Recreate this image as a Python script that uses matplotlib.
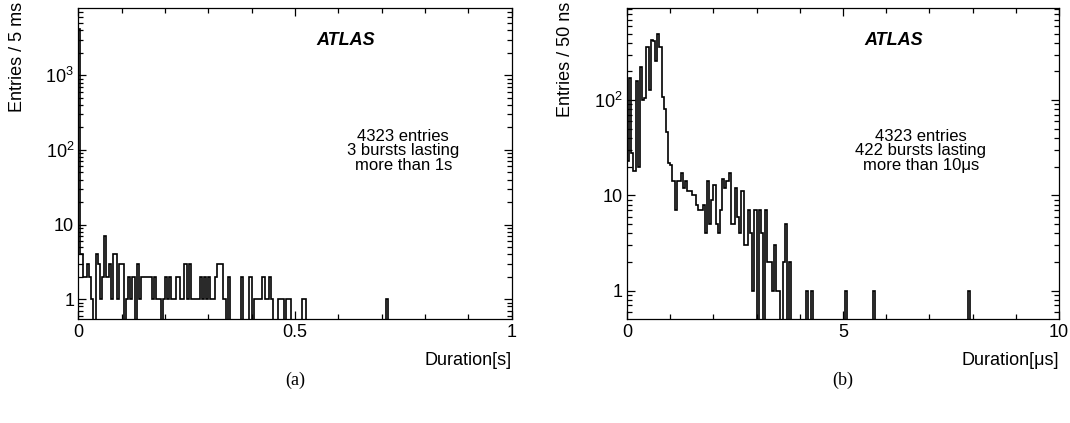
"""Burst duration histograms, two panels in ROOT/ATLAS style."""
import matplotlib

matplotlib.use("Agg")

import matplotlib.pyplot as plt
import numpy as np
from matplotlib.ticker import FixedLocator, FuncFormatter, LogLocator, MultipleLocator, NullFormatter

plt.rcParams["font.family"] = ["Liberation Sans", "DejaVu Sans"]
plt.rcParams["mathtext.fontset"] = "custom"
plt.rcParams["mathtext.rm"] = "Liberation Sans"
plt.rcParams["mathtext.it"] = "Liberation Sans:italic"
plt.rcParams["mathtext.bf"] = "Liberation Sans:bold"

N_BINS = 200

# (a) duration in s, 5 ms bins, bins 0..104 then isolated entries
dur_s_counts = [
    4170, 4, 2, 2, 3, 2, 1, 0, 4, 3, 1, 2, 7, 2, 3, 1, 4, 4, 1, 3,
    3, 0, 1, 2, 1, 2, 0, 3, 1, 2, 2, 2, 2, 2, 1, 2, 1, 1, 0, 1,
    2, 1, 2, 1, 1, 2, 2, 1, 1, 3, 1, 3, 1, 1, 1, 1, 2, 1, 2, 1,
    2, 1, 1, 2, 3, 3, 3, 1, 0, 2, 0, 0, 0, 0, 0, 2, 0, 0, 0, 2,
    0, 1, 1, 1, 1, 2, 1, 1, 2, 1, 0, 0, 1, 1, 1, 0, 1, 1, 0, 0,
    0, 0, 0, 1, 1,
]
dur_s_far = {142: 1}

# (b) duration in us, 50 ns bins, bins 0..75 then isolated entries
dur_us_counts = [
    23, 170, 28, 18, 160, 20, 220, 100, 105, 360, 127, 430, 420, 260, 500, 360, 108, 81, 46, 22,
    21, 14, 7, 14, 14, 17, 12, 14, 11, 11, 10, 10, 8, 7, 7, 8, 4, 14, 5, 9,
    13, 5, 4, 7, 15, 12, 14, 17, 5, 5, 12, 6, 4, 11, 3, 3, 7, 4, 1, 7,
    0, 7, 4, 0, 7, 2, 2, 1, 3, 1, 1, 0, 2, 5, 0, 2,
]
dur_us_far = {83: 1, 85: 1, 101: 1, 114: 1, 158: 1}

panels = [
    {
        "counts": dur_s_counts, "far": dur_s_far, "xmax": 1.0,
        "xmajor": [0, 0.5, 1], "xminor": 0.1, "xlabels": ["0", "0.5", "1"],
        "ylim": (0.55, 7900), "ylabel": "Entries / 5 ms", "xlabel": "Duration[s]",
        "note": "4323 entries\n3 bursts lasting\nmore than 1s", "note_x": 0.75,
        "tag": "(a)", "rect": [78.3, 8.3, 433.4, 310.2], "ylabel_x": 17.5,
    },
    {
        "counts": dur_us_counts, "far": dur_us_far, "xmax": 10.0,
        "xmajor": [0, 5, 10], "xminor": 1.0, "xlabels": ["0", "5", "10"],
        "ylim": (0.51, 920), "ylabel": "Entries / 50 ns", "xlabel": "Duration[\u03bcs]",
        "note": "4323 entries\n422 bursts lasting\nmore than 10\u03bcs", "note_x": 0.68,
        "tag": "(b)", "rect": [627.0, 8.3, 432.0, 310.2], "ylabel_x": 566.0,
    },
]

W, H = 1070, 423


def root_log(v, pos):
    if v <= 1.5:
        return "1"
    if v <= 15:
        return "10"
    return "$10^{%d}$" % int(round(np.log10(v)))


fig = plt.figure(figsize=(W / 100, H / 100), dpi=100)

for p in panels:
    x0, top, w, h = p["rect"]
    ax = fig.add_axes([x0 / W, 1 - (top + h) / H, w / W, h / H])
    counts = np.zeros(N_BINS)
    counts[: len(p["counts"])] = p["counts"]
    for idx, val in p["far"].items():
        counts[idx] = val
    edges = np.linspace(0, p["xmax"], N_BINS + 1)
    ax.set_yscale("log")
    ax.stairs(counts, edges, baseline=1e-3, color="black", linewidth=1.2)
    ax.set_xlim(0, p["xmax"])
    ax.set_ylim(*p["ylim"])

    ax.xaxis.set_major_locator(FixedLocator(p["xmajor"]))
    ax.set_xticklabels(p["xlabels"])
    ax.xaxis.set_minor_locator(MultipleLocator(p["xminor"]))
    ax.yaxis.set_major_locator(LogLocator(base=10, numticks=10))
    ax.yaxis.set_minor_locator(LogLocator(base=10, subs=np.arange(2, 10), numticks=20))
    ax.yaxis.set_major_formatter(FuncFormatter(root_log))
    ax.yaxis.set_minor_formatter(NullFormatter())
    ax.tick_params(which="both", direction="in", top=True, right=True, labelsize=13, width=0.9)
    ax.tick_params(which="major", length=6)
    ax.tick_params(which="minor", length=3.3)
    ax.tick_params(axis="x", pad=4)
    ax.tick_params(axis="y", pad=3)
    for spine in ax.spines.values():
        spine.set_linewidth(0.9)

    ax.text(0.55, 0.897, "ATLAS", transform=ax.transAxes, fontsize=13,
            fontweight="bold", fontstyle="italic", va="center", ha="left")
    ax.text(p["note_x"], 0.54, p["note"], transform=ax.transAxes, fontsize=12,
            ha="center", va="center", linespacing=0.97)

    fig.text((x0 + w) / W, 1 - 360 / H, p["xlabel"], fontsize=13, ha="right", va="center")
    fig.text(p["ylabel_x"] / W, 1 - 2 / H, p["ylabel"], fontsize=13, rotation=90,
             ha="center", va="top")
    fig.text((x0 + w / 2) / W, 1 - 380 / H, p["tag"], fontsize=13,
             family=["Liberation Serif", "DejaVu Serif"], ha="center", va="center")

fig.savefig("out.png", dpi=100)
